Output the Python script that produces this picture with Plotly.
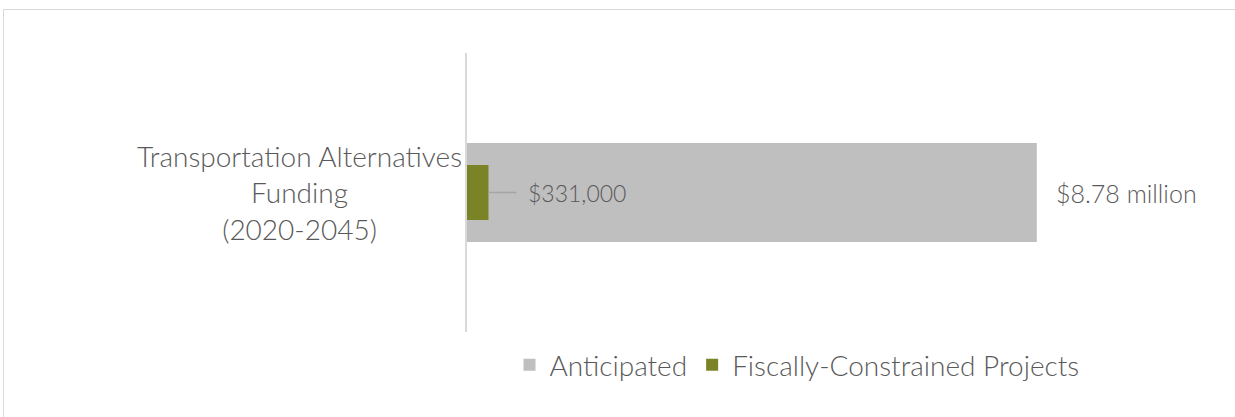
import plotly.graph_objects as go

categories = ["Transportation Alternatives<br>Funding<br>(2020-2045)"]
anticipated = [8780000]
fiscally_constrained = [331000]
anticipated_label = ["$8.78 million"]
constrained_label = ["$331,000"]
series_names = ["Anticipated", "Fiscally-Constrained Projects"]

W, H = 1235, 417
L, R, T, B = 467, 119, 53, 85
pw = W - L - R
ph = H - T - B
XMAX = 10000000

FAM = "Lato"
COL = "#595959"
CAT_FONT = dict(family=FAM, size=28, color=COL, weight=300)
BIG_LBL_FONT = dict(family=FAM, size=25, color=COL, weight=300)
SMALL_LBL_FONT = dict(family=FAM, size=23, color=COL, weight=300)
LEG_FONT = dict(family=FAM, size=28, color=COL, weight=300)

fig = go.Figure()
fig.add_trace(go.Bar(
    y=[0], x=anticipated, orientation="h", name=series_names[0],
    marker=dict(color="#bfbfbf", line=dict(width=0)), width=0.355,
    hoverinfo="skip",
))
fig.add_trace(go.Bar(
    y=[0], x=fiscally_constrained, orientation="h", name=series_names[1],
    marker=dict(color="#7a8426", line=dict(width=0)), width=0.197,
    hoverinfo="skip",
))

def px_to_paper_x(px):
    return (px - L) / pw

def px_to_paper_y(py):
    return (H - B - py) / ph

px_per_unit = pw / XMAX

annotations = [
    dict(x=px_to_paper_x(299), y=0, xref="paper", yref="y", text=categories[0],
         showarrow=False, xanchor="center", yanchor="middle", align="center",
         font=CAT_FONT),
    dict(x=anticipated[0], y=0, xref="x", yref="y", text=anticipated_label[0],
         showarrow=False, xanchor="left", yanchor="middle", xshift=17, font=BIG_LBL_FONT),
    dict(x=fiscally_constrained[0], y=0, xref="x", yref="y", text=constrained_label[0],
         showarrow=False, xanchor="left", yanchor="middle", xshift=38, font=SMALL_LBL_FONT),
]

shapes = [
    dict(type="rect", xref="paper", yref="paper",
         x0=px_to_paper_x(3.5), x1=px_to_paper_x(W + 5),
         y0=px_to_paper_y(9.5), y1=px_to_paper_y(H + 5),
         line=dict(color="#d9d9d9", width=1), fillcolor="rgba(0,0,0,0)", layer="below"),
    dict(type="line", xref="x", yref="y",
         x0=fiscally_constrained[0], x1=fiscally_constrained[0] + 28 / px_per_unit,
         y0=0, y1=0, line=dict(color="#a6a6a6", width=1.5), layer="above"),
]

fig.update_layout(
    width=W, height=H,
    margin=dict(l=L, r=R, t=T, b=B, pad=0),
    paper_bgcolor="white", plot_bgcolor="white",
    barmode="overlay",
    showlegend=True,
    legend=dict(orientation="h", x=px_to_paper_x(797), xanchor="center",
                y=px_to_paper_y(365), yanchor="middle", font=LEG_FONT,
                itemclick=False, itemdoubleclick=False, bgcolor="rgba(0,0,0,0)"),
    xaxis=dict(range=[0, XMAX], showgrid=False, zeroline=False, showticklabels=False,
               showline=False, fixedrange=True),
    yaxis=dict(range=[-0.5, 0.5], showgrid=False, zeroline=False, showticklabels=False,
               showline=True, linecolor="#d9d9d9", linewidth=1.5, fixedrange=True),
    annotations=annotations,
    shapes=shapes,
    font=BIG_LBL_FONT,
)

fig.write_html("out.html", config={"displayModeBar": False})
